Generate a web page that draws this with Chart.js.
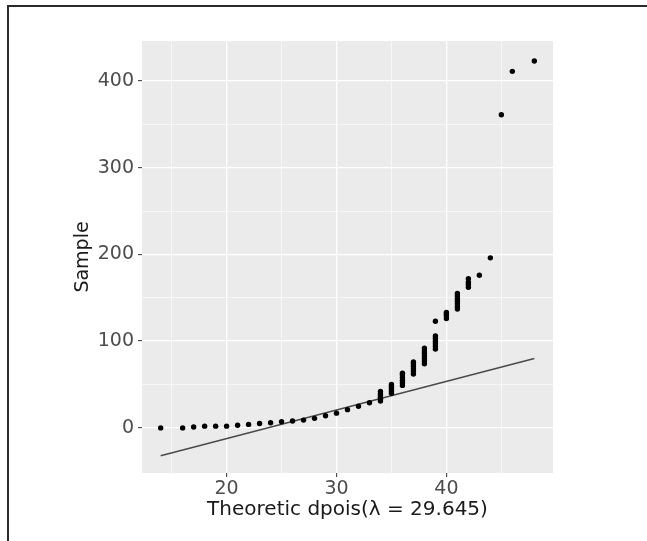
<!DOCTYPE html>
<html>
<head>
<meta charset="utf-8">
<script src="https://cdn.jsdelivr.net/npm/chart.js@4/dist/chart.umd.min.js"></script>
<style>
  html, body { margin: 0; padding: 0; background: #fff; }
  #qq { display: block; }
</style>
</head>
<body>
<canvas id="qq" width="647" height="541"></canvas>
<script>
// ---- data ----
// theoretical Poisson quantiles (x) and sorted sample values (y)
const sampleX = [
  14, 16, 17, 18, 19, 20, 21, 22, 23, 24, 25, 26, 27, 28, 29, 30, 31, 32, 33,
  34, 34, 34, 34, 34, 34,
  35, 35, 35, 35, 35, 35,
  36, 36, 36, 36, 36, 36,
  37, 37, 37, 37, 37, 37,
  38, 38, 38, 38, 38, 38, 38,
  39, 39, 39, 39, 39, 39, 39,
  40, 40, 40, 40,
  41, 41, 41, 41, 41, 41, 41,
  42, 42, 42, 42,
  43, 44, 45, 46, 48
];
const sampleY = [
  0, 0, 1, 2, 2, 2, 3, 4, 5, 6, 7, 8, 9, 11, 14, 17, 21, 25, 29,
  31, 33, 35, 37, 39, 42,
  40, 42, 44, 46, 48, 50,
  49, 52, 55, 58, 61, 63,
  62, 65, 68, 71, 74, 76,
  74, 77, 80, 83, 86, 89, 92,
  91, 94, 97, 100, 103, 106, 123,
  126, 129, 131, 133,
  137, 140, 143, 146, 149, 152, 155,
  162, 165, 168, 172,
  176, 196, 361, 411, 423
];
// reference line (qqline) end points
const lineX = [14, 48];
const lineY = [-32, 80];

const xMajor = [20, 30, 40];
const yMajor = [0, 100, 200, 300, 400];
const xTitle = 'Theoretic dpois(\u03bb = 29.645)';
const yTitle = 'Sample';

// ---- helpers ----
const FONT = 'DejaVu Sans';
const isMajor = (list, v) => list.some(m => Math.abs(m - v) < 1e-6);

function gridTicks(from, to, step) {
  const out = [];
  for (let v = from; v <= to + 1e-9; v += step) out.push({ value: v });
  return out;
}

// page frame + grey panel
const panelPlugin = {
  id: 'panel',
  beforeDraw(chart) {
    const { ctx, chartArea: a } = chart;
    ctx.save();
    ctx.fillStyle = '#ffffff';
    ctx.fillRect(0, 0, chart.width, chart.height);
    ctx.fillStyle = '#EBEBEB';
    ctx.fillRect(a.left, a.top, a.right - a.left, a.bottom - a.top);
    ctx.strokeStyle = '#2b2b2b';
    ctx.lineWidth = 2;
    ctx.beginPath();
    ctx.moveTo(8, chart.height);
    ctx.lineTo(8, 6);
    ctx.lineTo(chart.width, 6);
    ctx.stroke();
    ctx.restore();
  }
};

const chart = new Chart(document.getElementById('qq'), {
  type: 'scatter',
  data: {
    datasets: [
      {
        label: 'line',
        data: lineX.map((x, i) => ({ x, y: lineY[i] })),
        showLine: true,
        borderColor: '#4a4a4a',
        borderWidth: 1.5,
        pointRadius: 0,
        order: 2
      },
      {
        label: 'sample',
        data: sampleX.map((x, i) => ({ x, y: sampleY[i] })),
        backgroundColor: '#000000',
        borderColor: '#000000',
        borderWidth: 0,
        pointRadius: 2.7,
        order: 1
      }
    ]
  },
  options: {
    responsive: false,
    animation: false,
    layout: { padding: { left: 0, top: 41, right: 94, bottom: 0 } },
    plugins: { legend: { display: false }, tooltip: { enabled: false } },
    scales: {
      x: {
        type: 'linear',
        min: 12.3,
        max: 49.7,
        afterBuildTicks: (s) => { s.ticks = gridTicks(15, 45, 5); },
        afterFit: (s) => { s.height = 68; },
        border: { display: false },
        grid: {
          color: '#ffffff',
          lineWidth: (c) => isMajor(xMajor, c.tick.value) ? 1.3 : 0.6,
          drawTicks: true,
          tickLength: 4,
          tickColor: (c) => isMajor(xMajor, c.tick.value) ? '#333333' : 'rgba(0,0,0,0)',
          tickWidth: 1
        },
        ticks: {
          autoSkip: false,
          maxRotation: 0,
          padding: 1,
          color: '#4D4D4D',
          font: { family: FONT, size: 19 },
          callback: (v) => isMajor(xMajor, v) ? String(v) : ''
        },
        title: {
          display: true,
          text: xTitle,
          color: '#1a1a1a',
          font: { family: FONT, size: 20 },
          padding: { top: 0, bottom: 19 }
        }
      },
      y: {
        type: 'linear',
        min: -52,
        max: 446,
        afterBuildTicks: (s) => { s.ticks = gridTicks(0, 400, 50); },
        afterFit: (s) => { s.width = 142; },
        border: { display: false },
        grid: {
          color: '#ffffff',
          lineWidth: (c) => isMajor(yMajor, c.tick.value) ? 1.3 : 0.6,
          drawTicks: true,
          tickLength: 4,
          tickColor: (c) => isMajor(yMajor, c.tick.value) ? '#333333' : 'rgba(0,0,0,0)',
          tickWidth: 1
        },
        ticks: {
          autoSkip: false,
          padding: 4,
          color: '#4D4D4D',
          font: { family: FONT, size: 19 },
          callback: (v) => isMajor(yMajor, v) ? String(v) : ''
        },
        title: {
          display: true,
          text: yTitle,
          color: '#1a1a1a',
          font: { family: FONT, size: 19 },
          padding: { top: 72, bottom: 0 }
        }
      }
    }
  },
  plugins: [panelPlugin]
});
</script>
</body>
</html>
